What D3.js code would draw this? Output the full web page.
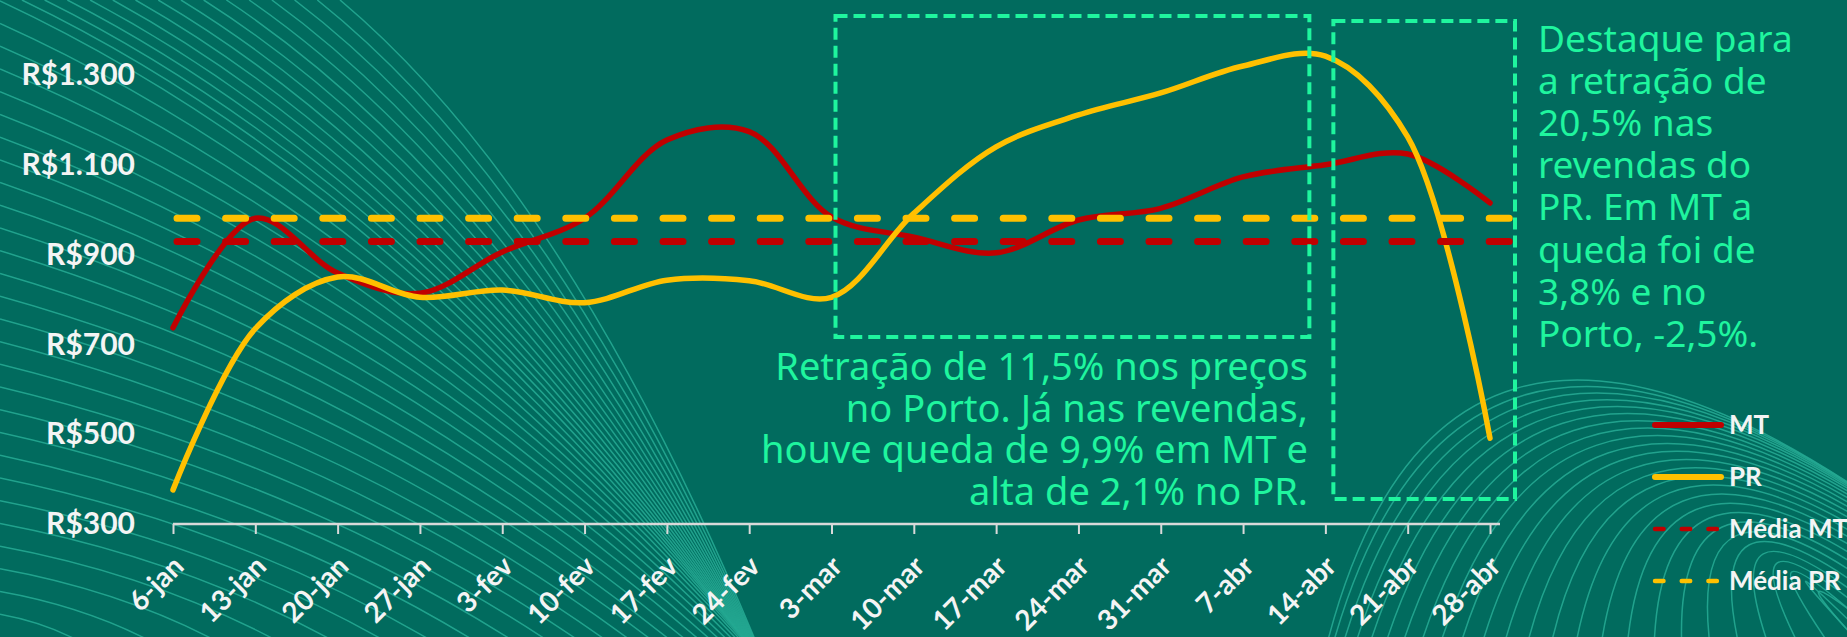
<!DOCTYPE html>
<html lang="pt-BR">
<head>
<meta charset="utf-8">
<script src="https://cdn.jsdelivr.net/npm/d3@7"></script>
<style>
  html, body { margin: 0; padding: 0; background: #016b5e; }
  svg { display: block; }
</style>
</head>
<body>
<div id="grafico"></div>
<script>
// semanas (eixo x) e preços
const semanas = ['6-jan', '13-jan', '20-jan', '27-jan', '3-fev', '10-fev', '17-fev', '24-fev',
  '3-mar', '10-mar', '17-mar', '24-mar', '31-mar', '7-abr', '14-abr', '21-abr', '28-abr'];
const precoMT = [737, 981, 859, 814, 906, 981, 1155, 1174, 984, 939, 904, 977, 1003, 1073, 1100, 1124, 1015];
const precoPR = [376, 735, 850, 805, 821, 793, 843, 842, 805, 992, 1140, 1211, 1260, 1320, 1342, 1162, 491];
const mediaMT = 929;
const mediaPR = 981;
const ticksPreco = [300, 500, 700, 900, 1100, 1300];
const legenda = ['MT', 'PR', 'Média MT', 'Média PR'];
const notaPorto = ['Retração de 11,5% nos preços', 'no Porto. Já nas revendas,',
  'houve queda de 9,9% em MT e', 'alta de 2,1% no PR.'];
const notaPR = ['Destaque para', 'a retração de', '20,5% nas', 'revendas do',
  'PR. Em MT a', 'queda foi de', '3,8% e no', 'Porto, -2,5%.'];

const W = 1847, H = 637;
const fundo = '#016b5e', vermelho = '#c00000', amarelo = '#ffc000', verdeNota = '#1ff59e';

const svg = d3.select('#grafico').append('svg')
  .attr('width', W)
  .attr('height', H);

svg.append('rect').attr('width', W).attr('height', H).attr('fill', fundo);

// linhas decorativas do fundo
const deco = svg.append('g')
  .attr('fill', 'none')
  .attr('stroke', '#25a892')
  .attr('stroke-opacity', 0.9)
  .attr('stroke-width', 1.5);

const nLeque = 44, topo = 340;
d3.range(1, nLeque).forEach(function(i) {
  const per = i / (nLeque - 1) * (H + topo);
  const sx = per < H ? 0 : per - H;
  const sy = per < H ? H - per : 0;
  const ex = 745 - 745 * Math.pow(sy / H, 3) + (per > H ? (per - H) * 0.03 : 0);
  const ey = H + 3;
  const p = d3.path();
  p.moveTo(sx, sy);
  p.quadraticCurveTo(sx + 0.55 * (ex - sx), sy + 0.3 * (ey - sy), ex, ey);
  deco.append('path').attr('d', p.toString());
});

const nArco = 26;
d3.range(nArco).forEach(function(j) {
  const t = j / (nArco - 1);
  const p = d3.path();
  p.moveTo(1328 + 560 * Math.pow(t, 1.4), H + 3);
  p.quadraticCurveTo(1440 + 330 * t, 215 + 330 * t, 1852, 485 + 150 * t * t);
  deco.append('path').attr('d', p.toString());
});

// escalas
const x = d3.scalePoint().domain(semanas).range([173, 1490]);
const y = d3.scaleLinear().domain([300, 1300]).range([524, 75]);
const br = d3.formatLocale({decimal: ',', thousands: '.', grouping: [3], currency: ['R$', '']});
const fmtPreco = br.format('$,.0f');

// eixo y (só rótulos)
const yAxis = svg.append('g')
  .attr('transform', 'translate(173,0)')
  .call(d3.axisLeft(y).tickValues(ticksPreco).tickFormat(fmtPreco).tickSize(0).tickPadding(38));
yAxis.select('.domain').remove();
yAxis.selectAll('text')
  .attr('fill', '#f4f4f4')
  .style('font', '700 30px Lato');

// eixo x
const xAxis = svg.append('g')
  .attr('transform', 'translate(0,524)')
  .call(d3.axisBottom(x).tickSizeInner(10).tickSizeOuter(0));
xAxis.select('.domain')
  .attr('d', 'M' + x.range()[0] + ',0H' + (x.range()[1] + 10))
  .attr('stroke', '#d9d9d9')
  .attr('stroke-width', 2.5);
xAxis.selectAll('.tick line').attr('stroke', '#d9d9d9').attr('stroke-width', 2);
xAxis.selectAll('.tick text')
  .attr('x', 0).attr('y', 0).attr('dy', 0)
  .attr('text-anchor', 'end')
  .attr('transform', 'translate(12,44) rotate(-45)')
  .attr('fill', '#f4f4f4')
  .style('font', '700 28px Lato');

// séries
const linha = d3.line()
  .x(function(d, i) { return x(semanas[i]); })
  .y(function(d) { return y(d); })
  .curve(d3.curveCatmullRom);

svg.append('path')
  .attr('d', linha(precoMT))
  .attr('fill', 'none')
  .attr('stroke', vermelho)
  .attr('stroke-width', 5.5)
  .attr('stroke-linecap', 'round');

svg.append('path')
  .attr('d', linha(precoPR))
  .attr('fill', 'none')
  .attr('stroke', amarelo)
  .attr('stroke-width', 5.5)
  .attr('stroke-linecap', 'round');

// médias
const xIni = x(semanas[0]) + 4, xFim = x(semanas[semanas.length - 1]) + 28;
[[mediaMT, vermelho], [mediaPR, amarelo]].forEach(function(m) {
  svg.append('line')
    .attr('x1', xIni).attr('x2', xFim)
    .attr('y1', y(m[0])).attr('y2', y(m[0]))
    .attr('stroke', m[1])
    .attr('stroke-width', 7)
    .attr('stroke-linecap', 'round')
    .attr('stroke-dasharray', '20 28.6');
});

// caixas de destaque
const caixas = [
  {x0: x('3-mar') + 4, x1: x('14-abr') - 16, y0: 16, y1: 337},
  {x0: x('14-abr') + 8, x1: x('28-abr') + 25, y0: 21, y1: 499}
];
svg.selectAll('rect.destaque')
  .data(caixas)
  .enter().append('rect')
  .attr('class', 'destaque')
  .attr('x', function(d) { return d.x0; })
  .attr('y', function(d) { return d.y0; })
  .attr('width', function(d) { return d.x1 - d.x0; })
  .attr('height', function(d) { return d.y1 - d.y0; })
  .attr('fill', 'none')
  .attr('stroke', verdeNota)
  .attr('stroke-width', 4)
  .attr('stroke-dasharray', '12 6');

// textos de destaque
svg.append('g')
  .selectAll('text')
  .data(notaPorto)
  .enter().append('text')
  .attr('x', 1308)
  .attr('y', function(d, i) { return 380 + i * 41.7; })
  .attr('text-anchor', 'end')
  .attr('fill', verdeNota)
  .style('font', '400 38px "Noto Sans"')
  .text(function(d) { return d; });

svg.append('g')
  .selectAll('text')
  .data(notaPR)
  .enter().append('text')
  .attr('x', 1538)
  .attr('y', function(d, i) { return 52 + i * 42.1; })
  .attr('fill', verdeNota)
  .style('font', '400 37px "Noto Sans"')
  .text(function(d) { return d; });

// legenda
const estilos = [
  {cor: vermelho, largura: 6, traco: null},
  {cor: amarelo, largura: 6, traco: null},
  {cor: vermelho, largura: 4.5, traco: '8.5 18.2'},
  {cor: amarelo, largura: 4.5, traco: '8.5 18.2'}
];
const leg = svg.append('g').attr('transform', 'translate(1655,0)');
const item = leg.selectAll('g')
  .data(legenda)
  .enter().append('g')
  .attr('transform', function(d, i) { return 'translate(0,' + (425 + i * 52) + ')'; });
item.append('line')
  .attr('x1', 0).attr('x2', 66)
  .attr('stroke', function(d, i) { return estilos[i].cor; })
  .attr('stroke-width', function(d, i) { return estilos[i].largura; })
  .attr('stroke-linecap', 'round')
  .attr('stroke-dasharray', function(d, i) { return estilos[i].traco; });
item.append('text')
  .attr('x', 74)
  .attr('dy', '0.36em')
  .attr('fill', '#f4f4f4')
  .style('font', '700 26px Lato')
  .text(function(d) { return d; });
</script>
</body>
</html>
